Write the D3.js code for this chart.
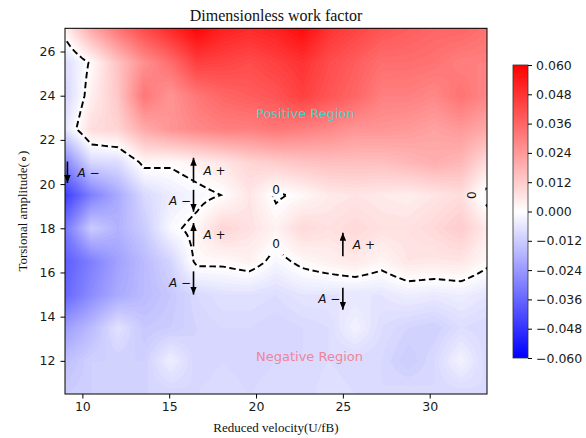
<!DOCTYPE html>
<html>
<head>
<meta charset="utf-8">
<script src="https://cdn.jsdelivr.net/npm/d3@7"></script>
<style>
body { margin: 0; background: #fff; }
text { font-family: "DejaVu Sans", sans-serif; }
.serif { font-family: "Liberation Serif", "Times New Roman", serif; }
</style>
</head>
<body>
<script>
// grid of the measurements
var velocities = [9.0, 10.52, 12.04, 13.56, 15.08, 16.6, 18.11, 19.63, 21.15, 22.67, 24.19, 25.71, 27.23, 28.75, 30.27, 31.79, 33.3]
var amplitudes = [10.5, 12, 13.5, 15, 16.5, 18, 19.5, 21, 22.5, 24, 25.5, 27]

// work factor (x 1e-3), one row per amplitude, bottom row first
var work = [
	[-12, -11, -10, -10, -10, -9, -8, -9, -8, -9, -7, -8, -9, -8, -9, -9, -8],
	[-15, -11, -11, -11, -4, -10, -9, -10, -9, -9, -8, -9, -9, -12, -9, -3, -9],
	[-23, -16, -7, -13, -12, -10, -9, -9, -10, -9, -8, -3, -8, -10, -11, -8, -9],
	[-36, -27, -20, -16, -13, -9, -7, -7, -8, -6, -6, -6, -6, -4, -5, -4, -6],
	[-38, -30, -22, -16, -10, 1.5, 1.3, 3, -2, 1.5, 3.5, 5.3, 2.2, 6, 5.6, 6, 1.5],
	[-32, -12, -18, -12, -1.5, 2, 10, 7, 3, 9, 7, 9, 7, 7, 9, 12, 5],
	[-45, -30, -20, -9, -4.5, -2, 0.2, 6, -1, 1.5, 5, 6, 5, 4, 6, 8, -2.5],
	[-28, -9, -8, 2, 1, 3.4, 6, 10, 12, 14, 15, 15, 15, 17, 19, 17, 8],
	[-6, 8, 10, 20, 25, 28, 30, 30, 32, 30, 28, 25, 25, 24, 22, 24, 20],
	[-10, 3.5, 13, 32, 25, 32, 36, 38, 40, 45, 40, 36, 30, 30, 28, 33, 28],
	[-8, 1, 14, 26, 34, 45, 44, 42, 45, 48, 42, 38, 34, 34, 33, 30, 30],
	[3, 20, 32, 42, 50, 58, 52, 50, 52, 57, 48, 44, 40, 38, 36, 36, 33]
]

var xTicks = [10, 15, 20, 25, 30]
var yTicks = [12, 14, 16, 18, 20, 22, 24, 26]
var cbarTicks = [-0.06, -0.048, -0.036, -0.024, -0.012, 0, 0.012, 0.024, 0.036, 0.048, 0.06]

// annotations
var arrowX = [9.14, 16.4, 16.4, 16.4, 16.4, 25.0, 25.0]
var arrowTail = [21.02, 20.06, 19.74, 17.18, 16.05, 16.73, 15.31]
var arrowHead = [20.05, 21.19, 18.75, 18.24, 15.0, 17.8, 14.31]
var arrowSign = ["\u2212", "+", "\u2212", "+", "\u2212", "+", "\u2212"]
var arrowSide = ["right", "right", "left", "right", "left", "right", "left"]

var zeroLabelX = [21.15, 21.15, 32.4]
var zeroLabelY = [19.75, 17.3, 19.5]
var zeroLabelRot = [0, 0, -90]

var regionText = ["Positive Region", "Negative Region"]
var regionY = [23, 12]
var regionColor = ["#4fcfc6", "#ee8698"]

var plot = {left: 65, right: 487, top: 28.3, bottom: 394}

var svg = d3.select("body")
	.append("svg")
	.attr("width", 586)
	.attr("height", 438)

var x = d3.scaleLinear().domain([9, 33.3]).range([plot.left, plot.right])
var y = d3.scaleLinear().domain([10.5, 27.05]).range([plot.bottom, plot.top])
var color = d3.scaleLinear().domain([-0.06, 0, 0.06]).range(["#0000ff", "#ffffff", "#ff0000"])

var defs = svg.append("defs")

defs.append("clipPath")
	.attr("id", "plotclip")
	.append("rect")
		.attr("x", plot.left)
		.attr("y", plot.top)
		.attr("width", plot.right - plot.left)
		.attr("height", plot.bottom - plot.top)

// refine the grid bilinearly so the filled contours look smooth
var K = 8
var nx = (velocities.length - 1) * K + 1
var ny = (amplitudes.length - 1) * K + 1
var grid = new Array(nx * ny)
for (var j = 0; j < ny; j++) {
	var j0 = Math.min(Math.floor(j / K), amplitudes.length - 2)
	var fy = j / K - j0
	for (var i = 0; i < nx; i++) {
		var i0 = Math.min(Math.floor(i / K), velocities.length - 2)
		var fx = i / K - i0
		var v = work[j0][i0] * (1 - fx) * (1 - fy) + work[j0][i0 + 1] * fx * (1 - fy)
			+ work[j0 + 1][i0] * (1 - fx) * fy + work[j0 + 1][i0 + 1] * fx * fy
		grid[j * nx + i] = v / 1000
	}
}

var ix = d3.scaleLinear().domain(d3.range(velocities.length)).range(velocities)
var iy = d3.scaleLinear().domain(d3.range(amplitudes.length)).range(amplitudes)

var project = d3.geoTransform({
	point: function(px, py) {
		this.stream.point(x(ix((px - 0.5) / K)), y(iy((py - 0.5) / K)))
	}
})
var path = d3.geoPath(project)

var levels = d3.range(-60, 61).map(function(d) { return d / 1000 })
var bands = d3.contours().size([nx, ny]).thresholds(levels)(grid)

svg.append("g")
	.attr("clip-path", "url(#plotclip)")
	.selectAll("path")
	.data(bands)
	.enter()
	.append("path")
		.attr("d", path)
		.attr("fill", function(d) { return color(d.value + 0.0005) })
		.attr("stroke", function(d) { return color(d.value + 0.0005) })
		.attr("stroke-width", 0.3)

// zero line, cut where the inline labels sit
var mask = defs.append("mask")
	.attr("id", "labelgap")
	.attr("maskUnits", "userSpaceOnUse")
	.attr("x", 0).attr("y", 0).attr("width", 586).attr("height", 438)

mask.append("rect")
	.attr("width", 586)
	.attr("height", 438)
	.attr("fill", "white")

mask.selectAll(".gap")
	.data(zeroLabelX)
	.enter()
	.append("rect")
		.attr("class", "gap")
		.attr("x", function(d, i) { return x(d) - (i == 2 ? -4 : 7) })
		.attr("y", function(d, i) { return y(zeroLabelY[i]) - 8 })
		.attr("width", function(d, i) { return i == 2 ? 10 : 14 })
		.attr("height", function(d, i) { return i == 1 ? 20 : 15 })
		.attr("fill", "black")

var zero = d3.contours().size([nx, ny]).thresholds([0])(grid)

svg.append("g")
	.attr("clip-path", "url(#plotclip)")
	.append("g")
	.attr("mask", "url(#labelgap)")
	.selectAll("path")
	.data(zero)
	.enter()
	.append("path")
		.attr("d", path)
		.attr("fill", "none")
		.attr("stroke", "black")
		.attr("stroke-width", 1.9)
		.attr("stroke-dasharray", "6.5,3.5")

svg.selectAll(".zerolabel")
	.data(zeroLabelX)
	.enter()
	.append("text")
		.attr("class", "zerolabel")
		.attr("transform", function(d, i) {
			return "translate(" + x(d) + "," + y(zeroLabelY[i]) + ") rotate(" + zeroLabelRot[i] + ")"
		})
		.attr("text-anchor", "middle")
		.attr("dy", "0.36em")
		.attr("font-size", 12)
		.attr("fill", "#111")
		.text("0")

// arrows
defs.append("marker")
	.attr("id", "head")
	.attr("viewBox", "0 0 8 6.5")
	.attr("refX", 8)
	.attr("refY", 3.25)
	.attr("markerWidth", 8)
	.attr("markerHeight", 6.5)
	.attr("markerUnits", "userSpaceOnUse")
	.attr("orient", "auto")
	.append("path")
		.attr("d", "M0,0 L8,3.25 L0,6.5 Z")
		.attr("fill", "black")

svg.selectAll(".arrow")
	.data(arrowX)
	.enter()
	.append("line")
		.attr("class", "arrow")
		.attr("x1", function(d) { return x(d) })
		.attr("x2", function(d) { return x(d) })
		.attr("y1", function(d, i) { return y(arrowTail[i]) })
		.attr("y2", function(d, i) { return y(arrowHead[i]) })
		.attr("stroke", "black")
		.attr("stroke-width", 1.6)
		.attr("marker-end", "url(#head)")

var amp = svg.selectAll(".amp")
	.data(arrowX)
	.enter()
	.append("text")
		.attr("class", "amp")
		.attr("x", function(d, i) { return arrowSide[i] == "right" ? x(d) + 10 : x(d) - 2.5 })
		.attr("y", function(d, i) { return y((arrowTail[i] + arrowHead[i]) / 2) })
		.attr("dy", "0.36em")
		.attr("text-anchor", function(d, i) { return arrowSide[i] == "right" ? "start" : "end" })
		.attr("font-size", 12)
		.attr("fill", "#111")

amp.append("tspan").attr("font-style", "italic").text("A")
amp.append("tspan").text(function(d, i) { return " " + arrowSign[i] })

svg.selectAll(".region")
	.data(regionText)
	.enter()
	.append("text")
		.attr("class", "region")
		.attr("x", x(20))
		.attr("y", function(d, i) { return y(regionY[i]) })
		.attr("font-size", 13)
		.attr("fill", function(d, i) { return regionColor[i] })
		.text(function(d) { return d })

// frame and axes
svg.append("rect")
	.attr("x", plot.left)
	.attr("y", plot.top)
	.attr("width", plot.right - plot.left)
	.attr("height", plot.bottom - plot.top)
	.attr("fill", "none")
	.attr("stroke", "black")
	.attr("stroke-width", 1)

var xAxis = svg.append("g")
	.attr("transform", "translate(0," + plot.bottom + ")")
	.call(d3.axisBottom(x).tickValues(xTicks).tickSize(4.5).tickPadding(4).tickFormat(d3.format("d")))

var yAxis = svg.append("g")
	.attr("transform", "translate(" + plot.left + ",0)")
	.call(d3.axisLeft(y).tickValues(yTicks).tickSize(4.5).tickPadding(5).tickFormat(d3.format("d")))

svg.selectAll(".domain").remove()
svg.selectAll(".tick text")
	.attr("font-family", "DejaVu Sans")
	.attr("font-size", 12.5)
	.attr("fill", "#1a1a1a")

svg.append("text")
	.attr("class", "serif")
	.attr("x", (plot.left + plot.right) / 2)
	.attr("y", 20.5)
	.attr("text-anchor", "middle")
	.attr("font-size", 16)
	.attr("fill", "#111")
	.text("Dimensionless work factor")

svg.append("text")
	.attr("class", "serif")
	.attr("x", (plot.left + plot.right) / 2)
	.attr("y", 432)
	.attr("text-anchor", "middle")
	.attr("font-size", 13)
	.attr("fill", "#111")
	.text("Reduced velocity(U/fB)")

svg.append("text")
	.attr("class", "serif")
	.attr("transform", "translate(27," + (plot.top + plot.bottom) / 2 + ") rotate(-90)")
	.attr("text-anchor", "middle")
	.attr("font-size", 13)
	.attr("fill", "#111")
	.text("Torsional amplitude(\u2218)")

// colorbar
var cb = {left: 513, width: 15, top: 65, bottom: 358}
var cy = d3.scaleLinear().domain([-0.06, 0.06]).range([cb.bottom, cb.top])

var grad = defs.append("linearGradient")
	.attr("id", "cbar")
	.attr("x1", 0).attr("y1", 1)
	.attr("x2", 0).attr("y2", 0)

grad.selectAll("stop")
	.data(d3.range(0, 1.0001, 0.05))
	.enter()
	.append("stop")
		.attr("offset", function(d) { return d })
		.attr("stop-color", function(d) { return color(-0.06 + 0.12 * d) })

svg.append("rect")
	.attr("x", cb.left)
	.attr("y", cb.top)
	.attr("width", cb.width)
	.attr("height", cb.bottom - cb.top)
	.attr("fill", "url(#cbar)")
	.attr("stroke", "#333")
	.attr("stroke-width", 0.8)

svg.append("g")
	.attr("transform", "translate(" + (cb.left + cb.width) + ",0)")
	.call(d3.axisRight(cy).tickValues(cbarTicks).tickSize(4).tickPadding(4).tickFormat(d3.format(".3f")))
	.call(function(g) { g.select(".domain").remove() })
	.selectAll("text")
		.attr("font-family", "DejaVu Sans")
		.attr("font-size", 12.5)
		.attr("fill", "#1a1a1a")
</script>
</body>
</html>
